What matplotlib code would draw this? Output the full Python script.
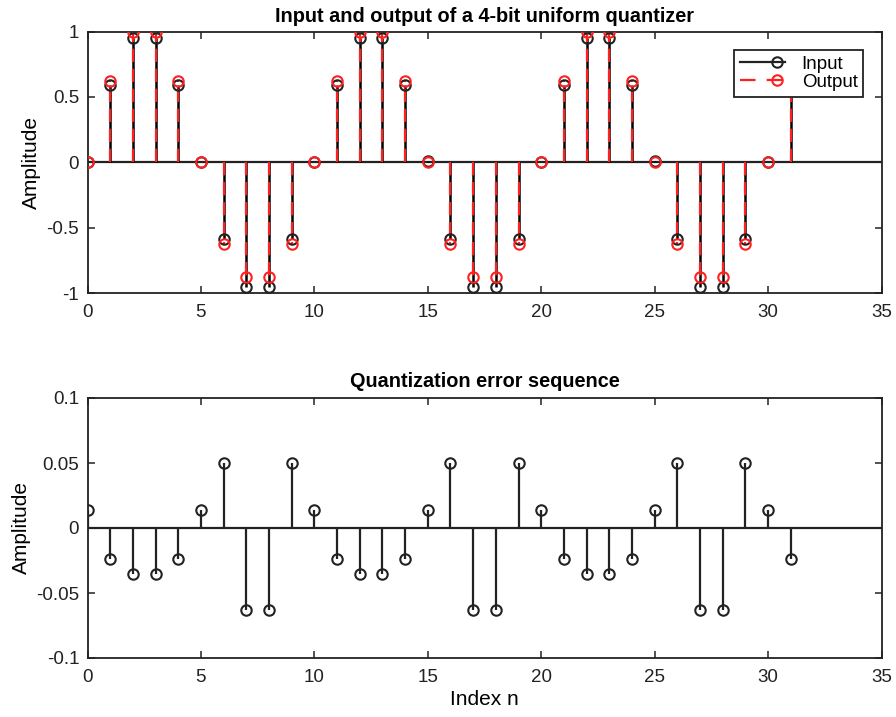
import matplotlib
matplotlib.use("Agg")
import matplotlib.pyplot as plt
from matplotlib.lines import Line2D
from matplotlib.legend_handler import HandlerBase

plt.rcParams['font.family'] = ['Liberation Sans', 'DejaVu Sans']

n = list(range(32))
x_in = [0.0, 0.588, 0.951, 0.951, 0.588, 0.0, -0.588, -0.951, -0.951, -0.588,
        0.0, 0.588, 0.951, 0.951, 0.588, 0.006, -0.588, -0.951, -0.951, -0.588,
        0.0, 0.588, 0.951, 0.951, 0.588, 0.006, -0.588, -0.951, -0.951, -0.588,
        0.0, 0.588]
x_out = [0.0, 0.625, 1.0, 1.0, 0.625, 0.0, -0.625, -0.875, -0.875, -0.625,
         0.0, 0.625, 1.0, 1.0, 0.625, 0.0, -0.625, -0.875, -0.875, -0.625,
         0.0, 0.625, 1.0, 1.0, 0.625, 0.0, -0.625, -0.875, -0.875, -0.625,
         0.0, 0.625]
err = [0.014, -0.024, -0.035, -0.035, -0.024, 0.014, 0.050, -0.063, -0.063, 0.050,
       0.014, -0.024, -0.035, -0.035, -0.024, 0.014, 0.050, -0.063, -0.063, 0.050,
       0.014, -0.024, -0.035, -0.035, -0.024, 0.014, 0.050, -0.063, -0.063, 0.050,
       0.014, -0.024]

W, H = 896, 717
fig = plt.figure(figsize=(W/100, H/100), dpi=100)

def ax_rect(l, t, r, b):
    return [l/W, 1 - b/H, (r-l)/W, (b-t)/H]

FS = 13.5
TFS = 14.3
LFS = 15
ax1 = fig.add_axes(ax_rect(87.5, 31.5, 881.5, 293))
ax2 = fig.add_axes(ax_rect(87.5, 398, 881.5, 658))

red = '#ff2020'
dark = '#222222'
ms = 7.5

def style(ax):
    for s in ax.spines.values():
        s.set_linewidth(1.3)
        s.set_color(dark)
    ax.tick_params(direction='in', top=True, right=True, length=5, width=1.1,
                   labelsize=FS, colors=dark, pad=6)
    ax.tick_params(axis='x', pad=8)
    ax.set_xlim(0, 35)
    ax.set_xticks([0, 5, 10, 15, 20, 25, 30, 35])

# Top: input and output
ax1.axhline(0, color=dark, lw=1.6, zorder=1)
ax1.vlines(n, 0, x_in, colors='black', lw=1.8, zorder=2)
ax1.vlines(n, 0, x_out, colors=red, lw=1.6, linestyles=(0, (6, 3)), zorder=3)
ax1.plot(n, x_in, 'o', mfc='none', mec=dark, ms=ms, mew=1.5, zorder=4)
ax1.plot(n, x_out, 'o', mfc='none', mec=red, ms=ms, mew=1.5, zorder=5)
ax1.set_ylim(-1, 1)
ax1.set_yticks([-1, -0.5, 0, 0.5, 1])
ax1.set_yticklabels(['-1', '-0.5', '0', '0.5', '1'])
ax1.set_ylabel('Amplitude', fontsize=LFS, labelpad=4)
ax1.set_title('Input and output of a 4-bit uniform quantizer', fontsize=TFS,
              fontweight='bold', pad=7)
style(ax1)


class StemHandler(HandlerBase):
    def __init__(self, color, dashes=None):
        super().__init__()
        self.color = color
        self.dashes = dashes

    def create_artists(self, legend, orig_handle, xdescent, ydescent, width,
                       height, fontsize, trans):
        y = height / 2 - ydescent
        x0 = -xdescent
        line = Line2D([x0, x0 + width], [y, y], color=self.color, lw=1.6)
        if self.dashes:
            line.set_dashes(self.dashes)
        mk = Line2D([x0 + width * 0.82], [y], marker='o', mfc='none',
                    mec=self.color, ms=ms, mew=1.5, ls='none')
        line.set_transform(trans)
        mk.set_transform(trans)
        return [line, mk]


h1 = Line2D([], [], color=dark)
h2 = Line2D([], [], color=red)
leg = ax1.legend([h1, h2], ['Input', 'Output'], loc='upper right',
                 bbox_to_anchor=(0.977, 0.929), fontsize=FS, frameon=True,
                 fancybox=False, framealpha=1, edgecolor=dark,
                 handler_map={h1: StemHandler(dark), h2: StemHandler(red, (7, 5))},
                 handlelength=2.4, handletextpad=0.9, borderpad=0.3,
                 labelspacing=0.05, borderaxespad=0)
leg.get_frame().set_linewidth(1.3)
leg.set_zorder(10)

# Bottom: error
ax2.axhline(0, color=dark, lw=1.6, zorder=1)
ax2.vlines(n, 0, err, colors=dark, lw=1.6, zorder=2)
ax2.plot(n, err, 'o', mfc='none', mec=dark, ms=ms, mew=1.5, zorder=4)
ax2.set_ylim(-0.1, 0.1)
ax2.set_yticks([-0.1, -0.05, 0, 0.05, 0.1])
ax2.set_yticklabels(['-0.1', '-0.05', '0', '0.05', '0.1'])
ax2.set_ylabel('Amplitude', fontsize=LFS, labelpad=4)
ax2.set_xlabel('Index n', fontsize=LFS, labelpad=3)
ax2.set_title('Quantization error sequence', fontsize=TFS, fontweight='bold', pad=8)
style(ax2)

fig.savefig('out.png', dpi=100)
